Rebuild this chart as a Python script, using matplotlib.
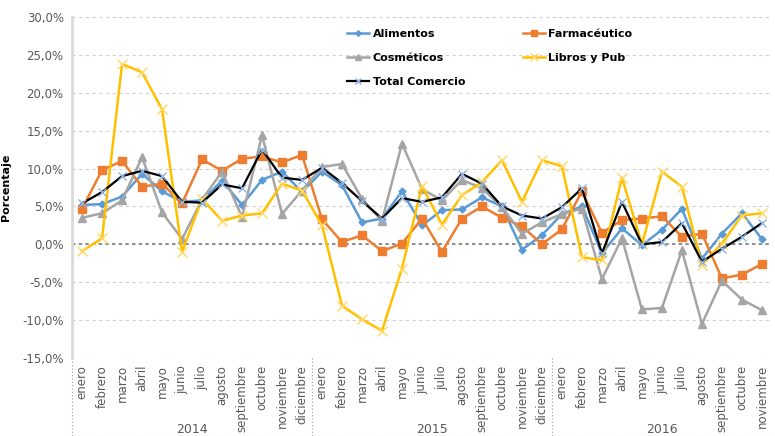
import numpy as np
import matplotlib
matplotlib.use("Agg")
import matplotlib.pyplot as plt
from matplotlib.ticker import FuncFormatter
import matplotlib.transforms as mtransforms

# datos (variacion %, ene 2014 - nov 2016)
meses = ["enero", "febrero", "marzo", "abril", "mayo", "junio", "julio", "agosto",
         "septiembre", "octubre", "noviembre", "diciembre"]
etiquetas = meses + meses + meses[:11]
anios = ["2014", "2015", "2016"]

alimentos = [5.2, 5.3, 6.3, 9.3, 7.0, 5.6, 5.8, 8.4, 5.2, 8.5, 9.6, 6.9,
             9.6, 7.8, 2.9, 3.4, 7.0, 2.5, 4.5, 4.6, 6.2, 5.0, -0.7, 1.2,
             4.0, 5.0, -1.2, 2.1, -0.1, 1.9, 4.7, -1.9, 1.4, 4.1, 0.7]
farmaceutico = [4.7, 9.8, 11.0, 7.6, 8.0, 5.4, 11.2, 9.7, 11.3, 11.6, 10.8, 11.8,
                3.3, 0.3, 1.2, -0.9, 0.1, 3.4, -1.0, 3.4, 5.0, 3.5, 2.4, 0.0,
                2.0, 7.0, 1.5, 3.2, 3.4, 3.7, 1.0, 1.4, -4.5, -4.0, -2.6]
cosmeticos = [3.5, 4.1, 5.8, 11.5, 4.2, 0.7, 5.9, 9.6, 3.6, 14.4, 4.0, 7.1,
              10.2, 10.6, 6.0, 3.1, 13.3, 7.3, 5.8, 8.5, 7.4, 4.9, 1.4, 2.9,
              4.0, 4.7, -4.6, 0.8, -8.6, -8.4, -0.8, -10.5, -4.8, -7.3, -8.7]
libros = [-0.9, 0.8, 23.8, 22.7, 17.8, -1.0, 6.0, 3.1, 3.8, 4.1, 8.0, 7.1,
          2.5, -8.1, -9.9, -11.4, -3.2, 7.7, 2.6, 6.5, 8.2, 11.1, 5.6, 11.1,
          10.3, -1.7, -2.1, 8.8, 0.0, 9.6, 7.6, -2.7, 0.1, 3.8, 4.1]
total = [5.4, 6.9, 9.0, 9.7, 9.0, 5.6, 5.5, 7.9, 7.4, 12.5, 8.8, 8.5,
         10.1, 8.1, 5.7, 3.4, 6.1, 5.6, 6.2, 9.3, 8.0, 5.0, 3.8, 3.4,
         4.9, 7.4, -1.2, 5.6, 0.0, 0.3, 2.8, -2.3, -0.6, 1.0, 2.8]

x = np.arange(len(etiquetas))

fig = plt.figure(figsize=(7.75, 4.36), dpi=100)
ax = fig.add_axes([0.093, 0.179, 0.903, 0.782])

gris = "#595959"

l_al, = ax.plot(x, alimentos, color="#5B9BD5", lw=1.8, marker="D", ms=3.5, label="Alimentos", zorder=3)
l_fa, = ax.plot(x, farmaceutico, color="#ED7D31", lw=1.8, marker="s", ms=6, label="Farmacéutico", zorder=3)
l_co, = ax.plot(x, cosmeticos, color="#A5A5A5", lw=1.8, marker="^", ms=6, label="Cosméticos", zorder=3)
l_li, = ax.plot(x, libros, color="#FFC000", lw=1.8, marker="x", ms=7, mec="#FFD966", mew=1,
                label="Libros y Pub", zorder=3)
l_to, = ax.plot(x, total, color="black", lw=1.6, marker="x", ms=6, mec="#8FB4E3", mew=1,
                label="Total Comercio", zorder=4)

ax.set_ylim(-15, 30)
ax.set_xlim(-0.5, len(x) - 0.5)
ax.set_yticks(np.arange(-15, 31, 5))
ax.yaxis.set_major_formatter(FuncFormatter(lambda v, p: f"{v:.1f}%".replace(".", ",")))
ax.grid(axis="y", color="#D0D0D0", ls=(0, (3, 3)), lw=0.8, zorder=0)
ax.axhline(0, color="#7F7F7F", ls=(0, (2, 2)), lw=1.2, zorder=2)

for s in ["top", "right", "bottom"]:
    ax.spines[s].set_visible(False)
ax.spines["left"].set_color("#D9D9D9")
ax.spines["left"].set_linewidth(2)

ax.set_xticks(x)
ax.set_xticklabels(etiquetas, rotation=90, fontsize=8.5, color=gris)
ax.tick_params(axis="x", length=0, pad=5)
ax.tick_params(axis="y", length=0, labelsize=8.5, labelcolor=gris, pad=6)

ax.set_ylabel("Porcentaje", fontsize=8, fontweight="bold", labelpad=8)

# separadores de anios y etiquetas
trans = mtransforms.blended_transform_factory(ax.transData, ax.transAxes)
for xs in [-0.5, 11.5, 23.5]:
    ax.plot([xs, xs], [0, -0.23], transform=trans, color="#A0A0A0", ls=(0, (1, 2)),
            lw=0.8, clip_on=False)
ax.plot([-0.5, len(x) - 0.5], [-0.23, -0.23], transform=trans, color="#A0A0A0",
        ls=(0, (1, 2)), lw=0.8, clip_on=False)
for k, a in enumerate(anios):
    ini = 12 * k - 0.5
    fin = min(12 * k + 11.5, len(x) - 0.5)
    ax.text((ini + fin) / 2, -0.21, a, transform=trans, ha="center", va="center",
            fontsize=9, color=gris)

# leyenda en filas: Alimentos/Farmacéutico, Cosméticos/Libros, Total
ax.legend([l_al, l_co, l_to, l_fa, l_li],
          ["Alimentos", "Cosméticos", "Total Comercio", "Farmacéutico", "Libros y Pub"],
          ncol=2, loc="upper left", bbox_to_anchor=(347 / 775, 1 - 29 / 436),
          bbox_transform=fig.transFigure, frameon=False, borderpad=0, borderaxespad=0,
          prop={"weight": "bold", "size": 8}, handlelength=2.0, handletextpad=0.3,
          columnspacing=5.2, labelspacing=1.25, markerscale=0.8)

fig.savefig("out.png", dpi=100)
